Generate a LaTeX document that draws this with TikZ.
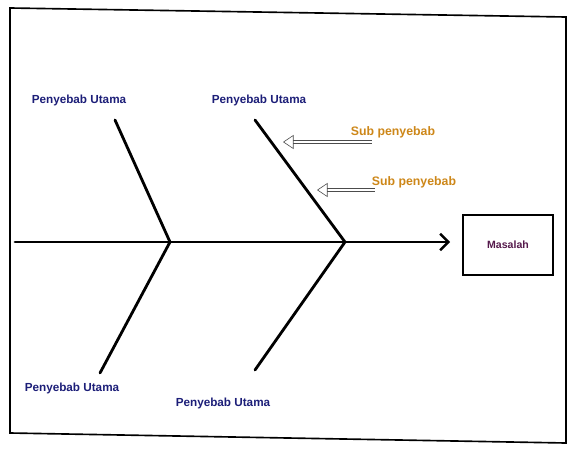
\documentclass[tikz,border=0pt]{standalone}
\usepackage{fontspec}
\setmainfont{Liberation Sans}
\usetikzlibrary{arrows.meta, calc}
\definecolor{navy}{RGB}{28, 30, 120}
\definecolor{amber}{RGB}{205, 135, 25}
\definecolor{plum}{RGB}{85, 25, 75}
\begin{document}
\begin{tikzpicture}[x=0.03cm, y=-0.03cm,
	bone/.style={line width=2.4pt, line cap=round},
	cause/.style={font=\bfseries\fontsize{10}{12}\selectfont, text=navy, inner sep=1pt},
	subcause/.style={font=\bfseries\fontsize{10.5}{12}\selectfont, text=amber, inner sep=1pt},
	hollow/.style={draw=black!70, line width=0.5pt, double=white, double distance=2.4pt,
		-{Triangle[open, length=9pt, width=12pt]}}]
	\useasboundingbox (0, 0) rectangle (570, 450);

	% frame
	\draw[line width=1.4pt] (10, 8) -- (566, 17) -- (566, 443) -- (10, 433) -- cycle;

	% spine and problem box
	\coordinate (tail) at (15, 242);
	\node[draw, line width=1.6pt, minimum width=2.7cm, minimum height=1.8cm,
		font=\bfseries\fontsize{9}{11}\selectfont, text=plum] (problem) at (508, 245) {Masalah};
	\coordinate (head) at (450, 242);
	\draw[bone, -{Straight Barb[length=7pt, width=14pt, line width=2pt]}] (tail) -- (head);

	% joints on the spine
	\coordinate (j1) at (170, 242);
	\coordinate (j2) at (345, 242);

	% main causes
	\node[cause] (c1) at (79, 100) {Penyebab Utama};
	\node[cause] (c2) at (259, 100) {Penyebab Utama};
	\node[cause] (c3) at (72, 388) {Penyebab Utama};
	\node[cause] (c4) at (223, 403) {Penyebab Utama};
	\coordinate (t1) at (115, 120);
	\coordinate (t2) at (255, 120);
	\coordinate (b1) at (100, 373);
	\coordinate (b2) at (255, 370);
	\draw[bone] (t1) -- (j1) -- (b1);
	\draw[bone] (t2) -- (j2) -- (b2);

	% sub causes
	\node[subcause] (s1) at (393, 132) {Sub penyebab};
	\node[subcause] (s2) at (414, 182) {Sub penyebab};
	\coordinate (p1) at (283, 142);
	\coordinate (p2) at (317, 190);
	\draw[hollow] ($(s1.south west |- p1) + (22, 0)$) -- (p1);
	\draw[hollow] ($(s2.south west |- p2) + (4, 0)$) -- (p2);
\end{tikzpicture}
\end{document}
